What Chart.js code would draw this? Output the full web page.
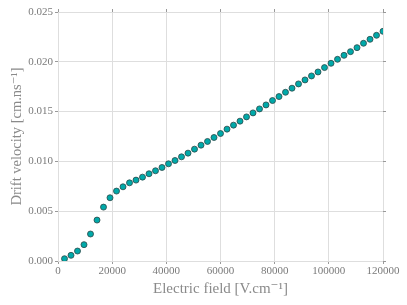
<!DOCTYPE html>
<html>
<head>
<meta charset="utf-8">
<script src="https://cdn.jsdelivr.net/npm/chart.js@4/dist/chart.umd.min.js"></script>
<style>
  html, body { margin: 0; padding: 0; background: #fff; }
  #wrap { width: 407px; height: 305px; }
</style>
</head>
<body>
<div id="wrap"><canvas id="myChart" width="407" height="305"></canvas></div>
<script>
// electric field [V/cm]
const field = [
  2400, 4800, 7200, 9600, 12000, 14400, 16800, 19200, 21600, 24000,
  26400, 28800, 31200, 33600, 36000, 38400, 40800, 43200, 45600, 48000,
  50400, 52800, 55200, 57600, 60000, 62400, 64800, 67200, 69600, 72000,
  74400, 76800, 79200, 81600, 84000, 86400, 88800, 91200, 93600, 96000,
  98400, 100800, 103200, 105600, 108000, 110400, 112800, 115200, 117600, 120000
];
// drift velocity [cm/ns]
const velocity = [
  0.00023, 0.00057, 0.00100, 0.00164, 0.00271, 0.00411, 0.00541, 0.00635, 0.00702, 0.00745,
  0.00785, 0.00812, 0.00842, 0.00876, 0.00906, 0.00939, 0.00976, 0.01009, 0.01046, 0.01083,
  0.01123, 0.01163, 0.01200, 0.01240, 0.01280, 0.01324, 0.01364, 0.01404, 0.01447, 0.01487,
  0.01527, 0.01567, 0.01611, 0.01651, 0.01694, 0.01735, 0.01778, 0.01818, 0.01858, 0.01898,
  0.01942, 0.01985, 0.02025, 0.02065, 0.02102, 0.02142, 0.02186, 0.02226, 0.02266, 0.02306
];
const xTicks = [0, 20000, 40000, 60000, 80000, 100000, 120000];
const yTicks = [0, 0.005, 0.010, 0.015, 0.020, 0.025];

const serif = "'Liberation Serif', 'DejaVu Serif', serif";
const gridColor = '#dedede';
const textColor = '#7a7a7a';

const points = field.map(function (f, i) {
  return { x: f, y: velocity[i] };
});

const data = {
  datasets: [{
    label: 'Drift velocity',
    data: points,
    backgroundColor: '#00a9a9',
    borderColor: '#2b4848',
    borderWidth: 0.8,
    pointRadius: 3,
    pointHoverRadius: 3
  }]
};

// small helper for the unlabeled mirror axes (top / right)
function mirror(pos, min, max, step, size) {
  return {
    type: 'linear',
    position: pos,
    min: min, max: max,
    ticks: { display: false, stepSize: step },
    grid: { drawOnChartArea: false, drawTicks: true, tickLength: 3, color: '#999' },
    border: { display: false },
    afterFit: function (s) {
      if (pos === 'top') s.height = size; else s.width = size;
    }
  };
}

const config = {
  type: 'scatter',
  data: data,
  options: {
    responsive: false,
    animation: false,
    layout: { padding: 0 },
    plugins: {
      legend: { display: false },
      tooltip: { enabled: false }
    },
    scales: {
      x: {
        type: 'linear',
        min: 0, max: 120000,
        afterBuildTicks: function (s) { s.ticks = xTicks.map(v => ({ value: v })); },
        ticks: {
          color: textColor,
          font: { family: serif, size: 11 },
          padding: 1,
          maxRotation: 0,
          callback: v => String(v)
        },
        grid: { color: gridColor, tickLength: 3, tickColor: '#999' },
        border: { display: false },
        title: {
          display: true,
          text: 'Electric field [V.cm⁻¹]',
          color: '#8a8a8a',
          font: { family: serif, size: 15 },
          padding: { top: 0, bottom: 7 }
        },
        afterFit: function (s) { s.height = 44; }
      },
      y: {
        type: 'linear',
        min: 0, max: 0.025,
        afterBuildTicks: function (s) { s.ticks = yTicks.map(v => ({ value: v })); },
        ticks: {
          color: textColor,
          font: { family: serif, size: 11 },
          padding: 2,
          callback: v => v.toFixed(3)
        },
        grid: { color: gridColor, tickLength: 3, tickColor: '#999' },
        border: { display: false },
        title: {
          display: true,
          text: 'Drift velocity [cm.ns⁻¹]',
          color: '#8a8a8a',
          font: { family: serif, size: 14.5 },
          padding: { top: 8, bottom: 0 }
        },
        afterFit: function (s) { s.width = 58; }
      },
      x2: mirror('top', 0, 120000, 20000, 12),
      y2: mirror('right', 0, 0.025, 0.005, 24)
    }
  }
};

const myChart = new Chart(document.getElementById('myChart'), config);
</script>
</body>
</html>
